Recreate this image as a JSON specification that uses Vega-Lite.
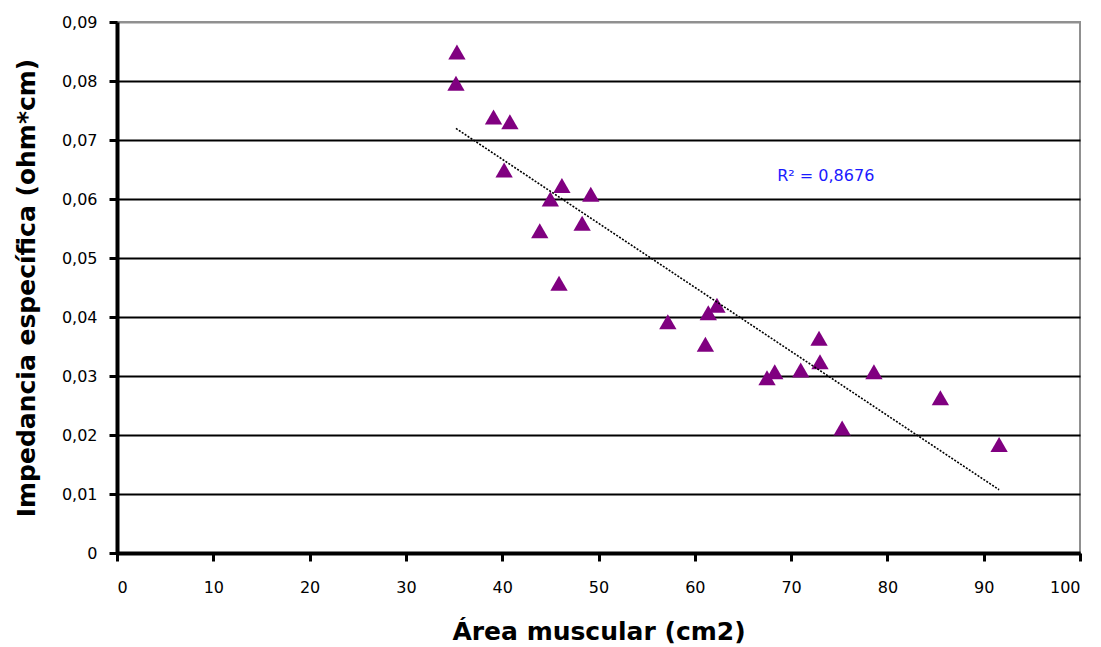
{
  "$schema": "https://vega.github.io/schema/vega-lite/v6.json",
  "width": 963,
  "height": 531,
  "autosize": {"type": "none"},
  "padding": {"left": 117, "top": 22, "right": 21, "bottom": 94},
  "background": "white",
  "datasets": {
    "pts": [
      {"area": 35.3, "imp": 0.0849},
      {"area": 35.2, "imp": 0.0796},
      {"area": 39.1, "imp": 0.0739},
      {"area": 40.8, "imp": 0.0731},
      {"area": 40.2, "imp": 0.0649},
      {"area": 45.0, "imp": 0.0600},
      {"area": 46.2, "imp": 0.0623},
      {"area": 49.2, "imp": 0.0608},
      {"area": 43.9, "imp": 0.0546},
      {"area": 48.3, "imp": 0.0559},
      {"area": 45.9, "imp": 0.0457},
      {"area": 57.2, "imp": 0.0392},
      {"area": 61.4, "imp": 0.0407},
      {"area": 62.3, "imp": 0.0420},
      {"area": 61.1, "imp": 0.0354},
      {"area": 67.5, "imp": 0.0297},
      {"area": 68.3, "imp": 0.0307},
      {"area": 71.0, "imp": 0.0310},
      {"area": 72.9, "imp": 0.0364},
      {"area": 73.0, "imp": 0.0324},
      {"area": 78.6, "imp": 0.0307},
      {"area": 75.3, "imp": 0.0212},
      {"area": 85.5, "imp": 0.0263},
      {"area": 91.6, "imp": 0.0184}
    ],
    "note": [
      {"area": 73.6, "imp": 0.0639, "txt": "R² = 0,8676"}
    ]
  },
  "encoding": {
    "x": {
      "field": "area", "type": "quantitative",
      "scale": {"domain": [0, 100], "nice": false, "zero": false},
      "axis": {
        "title": "Área muscular (cm2)",
        "values": [0, 10, 20, 30, 40, 50, 60, 70, 80, 90, 100],
        "grid": false,
        "domainColor": "black", "domainWidth": 4,
        "tickColor": "black", "tickWidth": 3, "tickSize": 8,
        "labelFont": "DejaVu Sans", "labelFontSize": 16, "labelColor": "black",
        "labelPadding": 18,
        "titleFont": "DejaVu Sans", "titleFontSize": 25, "titleFontWeight": "bold",
        "titleColor": "black", "titlePadding": 24
      }
    },
    "y": {
      "field": "imp", "type": "quantitative",
      "scale": {"domain": [0, 0.09], "nice": false, "zero": false},
      "axis": {
        "title": "Impedancia específica (ohm*cm)",
        "values": [0, 0.01, 0.02, 0.03, 0.04, 0.05, 0.06, 0.07, 0.08, 0.09],
        "labelExpr": "datum.value == 0 ? '0' : replace(format(datum.value, '.2f'), '.', ',')",
        "grid": true,
        "gridColor": {"condition": {"test": "datum.value >= 0.089", "value": "#909090"}, "value": "black"},
        "gridWidth": 2,
        "domainColor": "black", "domainWidth": 4,
        "tickColor": "black", "tickWidth": 3, "tickSize": 8,
        "labelFont": "DejaVu Sans", "labelFontSize": 16, "labelColor": "black",
        "labelPadding": 12,
        "titleFont": "DejaVu Sans", "titleFontSize": 25, "titleFontWeight": "bold",
        "titleColor": "black", "titlePadding": 22
      }
    }
  },
  "layer": [
    {
      "data": {"name": "pts"},
      "mark": {"type": "point", "shape": "triangle-up", "filled": true, "color": "#800080", "opacity": 1, "size": 300}
    },
    {
      "data": {"name": "pts"},
      "transform": [{"regression": "imp", "on": "area"}],
      "mark": {"type": "line", "color": "black", "strokeWidth": 1.6, "strokeDash": [2, 1.5]}
    },
    {
      "data": {"name": "note"},
      "mark": {"type": "text", "color": "#1a1aff", "font": "DejaVu Sans", "fontSize": 16, "align": "center", "baseline": "middle"},
      "encoding": {"text": {"field": "txt"}}
    }
  ],
  "config": {
    "view": {"stroke": "#909090", "strokeWidth": 2}
  }
}
